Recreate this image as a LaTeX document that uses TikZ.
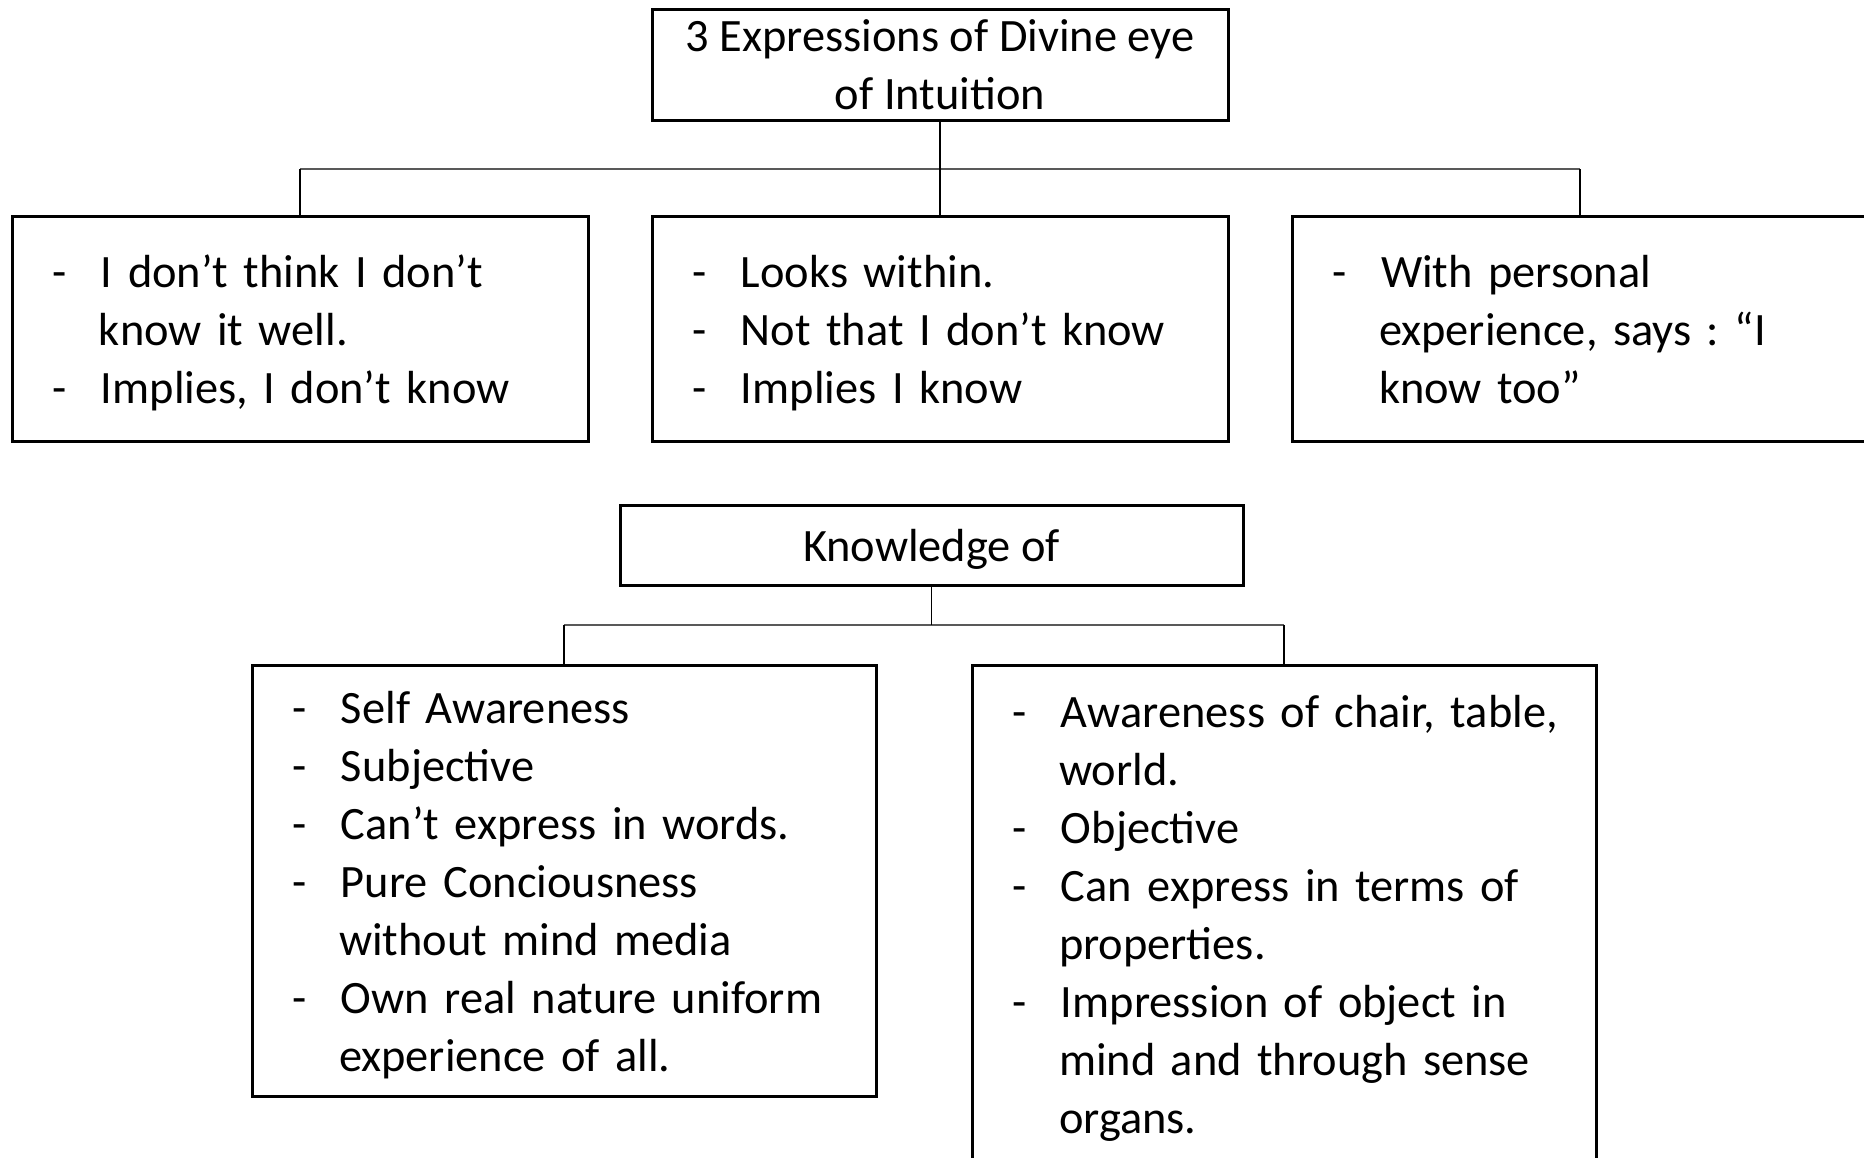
\documentclass[tikz,border=0pt]{standalone}
\usepackage{tikz}
\usetikzlibrary{positioning}
\usepackage{fontspec}
\setmainfont{Carlito}
\frenchspacing

\newcommand{\ystrut}{\rule[-6.15pt]{0pt}{29pt}}
\newcommand{\dline}[1]{\ystrut\makebox[24.25pt][l]{-}\mbox{#1}}
\newcommand{\contline}[1]{\ystrut\hspace*{23.25pt}\mbox{#1}}

\begin{document}
\begin{tikzpicture}[x=0.5pt,y=-0.5pt,
	box/.style={draw,line width=1.5pt,outer sep=0pt,inner ysep=0pt,%
		inner xsep=20.25pt,anchor=north west,%
		font=\fontsize{23.2}{29}\selectfont},
	itembox/.style={box,align=left},
	bus/.style={draw=black!65,line width=1pt},
	drop/.style={draw,line width=0.75pt}]
	\clip (0,0) rectangle (1864,1157);
	
	\node[box,align=center,inner xsep=0pt,minimum width=288pt,minimum height=55.7pt] (intuition) at (652,9.3)
		{3 Expressions of Divine eye\\of Intuition};
	\node[itembox,text width=247.5pt,minimum height=112.15pt] (think) at (12,216.7)
		{\dline{I don’t think I don’t}\\\contline{know it well.}\\\dline{Implies, I don’t know}};
	\node[itembox,text width=247.5pt,minimum height=112.15pt] (within) at (652,216.7)
		{\dline{Looks within.}\\\dline{Not that I don’t know}\\\dline{Implies I know}};
	\node[itembox,text width=247.5pt,minimum height=112.15pt] (personal) at (1292,216.7)
		{\dline{With personal}\\\contline{experience, says : “I}\\\contline{know too”}};
	
	\node[box,minimum width=311.5pt,minimum height=40pt] (knowledge) at (620,505)
		{\ystrut Knowledge of};
	\node[itembox,text width=271.5pt,minimum height=215.85pt] (subj) at (252,665)
		{\dline{Self Awareness}\\\dline{Subjective}\\\dline{Can’t express in words.}\\%
		\dline{Pure Conciousness}\\\contline{without mind media}\\%
		\dline{Own real nature uniform}\\\contline{experience of all.}};
	\node[itembox,text width=271.5pt,minimum height=248.5pt] (obj) at (972,665)
		{\dline{Awareness of chair, table,}\\\contline{world.}\\\dline{Objective}\\%
		\dline{Can express in terms of}\\\contline{properties.}\\%
		\dline{Impression of object in}\\\contline{mind and through sense}\\\contline{organs.}};
	
	\coordinate (topbus) at (940,169);
	\coordinate (lowbus) at (931.5,624.5);
	
	\draw[bus] (think.north |- topbus) -- (personal.north |- topbus);
	\draw[drop] (intuition.south) -- (within.north);
	\foreach \n in {think,personal}{
		\draw[drop] (\n.north) -- (\n.north |- topbus);
	}
	
	\draw[bus] (subj.north |- lowbus) -- (obj.north |- lowbus);
	\draw[drop] (knowledge.south) -- (knowledge.south |- lowbus);
	\foreach \n in {subj,obj}{
		\draw[drop] (\n.north) -- (\n.north |- lowbus);
	}
\end{tikzpicture}
\end{document}
